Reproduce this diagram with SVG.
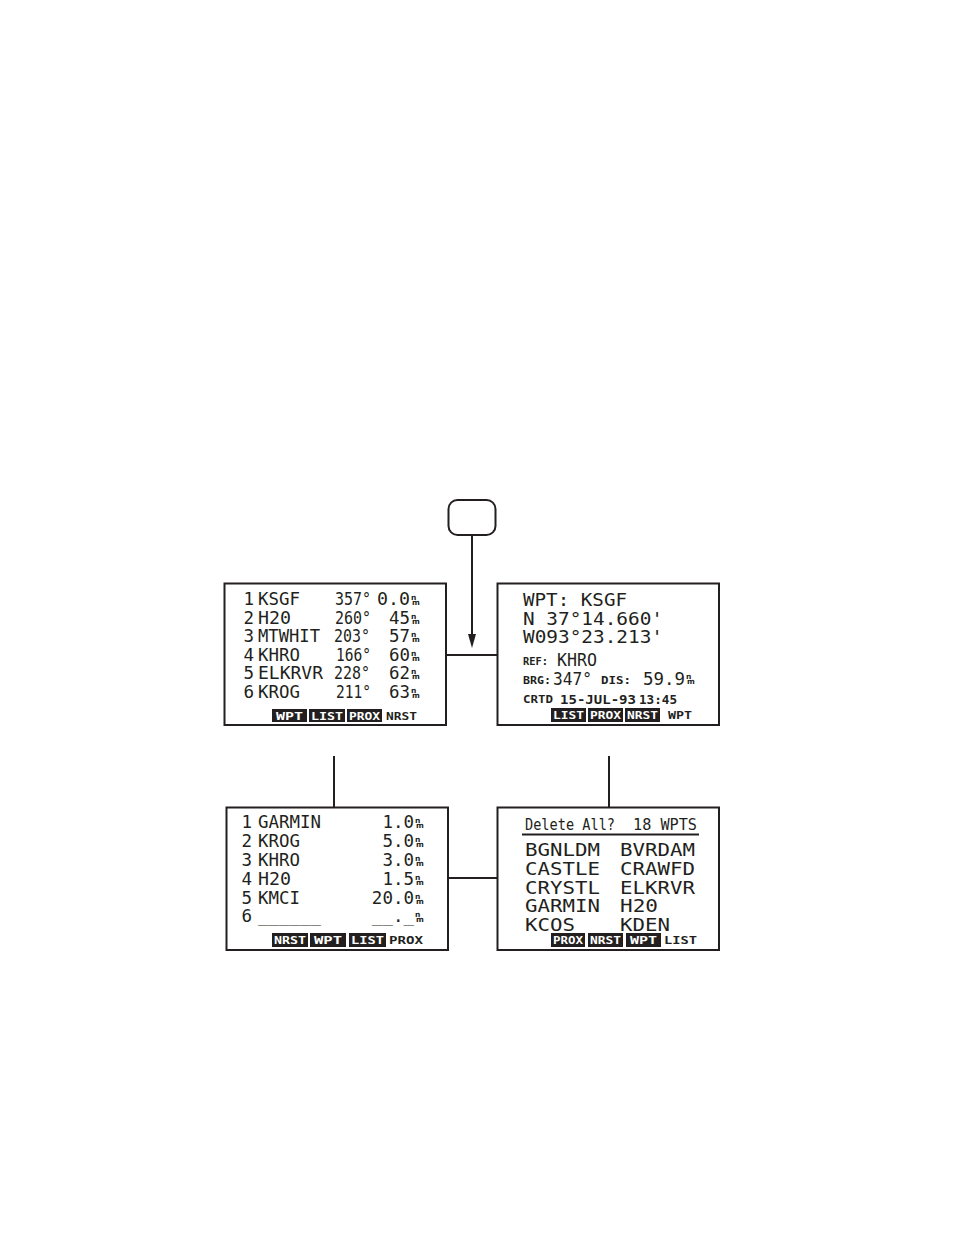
<svg xmlns="http://www.w3.org/2000/svg" width="954" height="1235" viewBox="0 0 954 1235">
<style>
.box{fill:#fff;stroke:#231f20;stroke-width:2}
.ln{stroke:#231f20;stroke-width:2;fill:none}
.t{font-family:"DejaVu Sans Mono","Liberation Mono",monospace;font-size:17.5px;fill:#231f20}
.s{font-family:"DejaVu Sans Mono","Liberation Mono",monospace;font-size:10px;font-weight:bold;fill:#231f20}
.nm{font-family:"DejaVu Sans","Liberation Sans",sans-serif;font-size:7.5px;font-weight:bold;fill:#231f20}
.k{fill:#231f20}
.kw{font-family:"DejaVu Sans Mono","Liberation Mono",monospace;font-size:11px;font-weight:bold;fill:#fff}
.kb{font-family:"DejaVu Sans Mono","Liberation Mono",monospace;font-size:11px;font-weight:bold;fill:#231f20}
.e{text-anchor:end}
</style>
<defs>
<g id="nmu"><text class="nm" x="0" y="-5">n</text><text class="nm" x="1" y="0">m</text></g>
</defs>
<rect width="954" height="1235" fill="#fff"/>
<g id="connectors">
<line class="ln" x1="472" y1="535" x2="472" y2="634"/>
<path d="M468,634 L476,634 L472,648 Z" fill="#231f20"/>
<line class="ln" x1="446" y1="655" x2="497" y2="655"/>
<line class="ln" x1="334" y1="756" x2="334" y2="807"/>
<line class="ln" x1="609" y1="756" x2="609" y2="807"/>
<line class="ln" x1="448" y1="878" x2="498" y2="878"/>
</g>
<g id="key">
<rect class="box" x="448.5" y="500" width="47" height="35" rx="9"/>
</g>
<g id="screen-nearest">
<rect class="box" x="224.5" y="583.5" width="221.5" height="141.5"/>
<g class="t">
<text class="e" x="254" y="605">1</text><text x="258" y="605" textLength="42" lengthAdjust="spacingAndGlyphs">KSGF</text><text x="335" y="605" textLength="36" lengthAdjust="spacingAndGlyphs">357°</text><text x="377" y="605" textLength="33" lengthAdjust="spacingAndGlyphs">0.0</text>
<text class="e" x="254" y="623.5">2</text><text x="258" y="623.5" textLength="33" lengthAdjust="spacingAndGlyphs">H20</text><text x="335" y="623.5" textLength="36" lengthAdjust="spacingAndGlyphs">260°</text><text x="389" y="623.5" textLength="21" lengthAdjust="spacingAndGlyphs">45</text>
<text class="e" x="254" y="642">3</text><text x="258" y="642" textLength="62" lengthAdjust="spacingAndGlyphs">MTWHIT</text><text x="334" y="642" textLength="36" lengthAdjust="spacingAndGlyphs">203°</text><text x="389" y="642" textLength="21" lengthAdjust="spacingAndGlyphs">57</text>
<text class="e" x="254" y="660.5">4</text><text x="258" y="660.5" textLength="42" lengthAdjust="spacingAndGlyphs">KHRO</text><text x="336" y="660.5" textLength="35" lengthAdjust="spacingAndGlyphs">166°</text><text x="389" y="660.5" textLength="21" lengthAdjust="spacingAndGlyphs">60</text>
<text class="e" x="254" y="679">5</text><text x="258" y="679" textLength="65" lengthAdjust="spacingAndGlyphs">ELKRVR</text><text x="334" y="679" textLength="36" lengthAdjust="spacingAndGlyphs">228°</text><text x="389" y="679" textLength="21" lengthAdjust="spacingAndGlyphs">62</text>
<text class="e" x="254" y="697.5">6</text><text x="258" y="697.5" textLength="42" lengthAdjust="spacingAndGlyphs">KROG</text><text x="336" y="697.5" textLength="35" lengthAdjust="spacingAndGlyphs">211°</text><text x="389" y="697.5" textLength="21" lengthAdjust="spacingAndGlyphs">63</text>
</g>
<use href="#nmu" x="411" y="605"/><use href="#nmu" x="411" y="623.5"/><use href="#nmu" x="411" y="642"/><use href="#nmu" x="411" y="660.5"/><use href="#nmu" x="411" y="679"/><use href="#nmu" x="411" y="697.5"/>
<rect class="k" x="272" y="709" width="35" height="13"/><rect class="k" x="309" y="709" width="36" height="13"/><rect class="k" x="347" y="709" width="35" height="13"/>
<text class="kw" x="276" y="719.5" textLength="27" lengthAdjust="spacingAndGlyphs">WPT</text><text class="kw" x="311" y="719.5" textLength="32" lengthAdjust="spacingAndGlyphs">LIST</text><text class="kw" x="349" y="719.5" textLength="31" lengthAdjust="spacingAndGlyphs">PROX</text><text class="kb" x="386" y="719.5" textLength="31" lengthAdjust="spacingAndGlyphs">NRST</text>
</g>
<g id="screen-waypoint">
<rect class="box" x="497.5" y="583.5" width="221.5" height="141.5"/>
<text class="t" x="523" y="606" textLength="104" lengthAdjust="spacingAndGlyphs">WPT: KSGF</text>
<text class="t" x="523" y="624.5" textLength="140" lengthAdjust="spacingAndGlyphs">N 37°14.660'</text>
<text class="t" x="523" y="643" textLength="140" lengthAdjust="spacingAndGlyphs">W093°23.213'</text>
<text class="s" x="523" y="665" textLength="25" lengthAdjust="spacingAndGlyphs">REF:</text>
<text class="t" x="557" y="666" textLength="40" lengthAdjust="spacingAndGlyphs">KHRO</text>
<text class="s" x="523" y="684" textLength="28" lengthAdjust="spacingAndGlyphs">BRG:</text>
<text class="t" x="553" y="685" textLength="39" lengthAdjust="spacingAndGlyphs">347°</text>
<text class="s" x="601" y="684" textLength="30" lengthAdjust="spacingAndGlyphs">DIS:</text>
<text class="t" x="643" y="685" textLength="42" lengthAdjust="spacingAndGlyphs">59.9</text>
<use href="#nmu" x="686" y="684"/>
<text class="s" x="523" y="703" textLength="30" lengthAdjust="spacingAndGlyphs">CRTD</text>
<text class="s" style="font-size:13px" x="560" y="703.5" textLength="76" lengthAdjust="spacingAndGlyphs">15-JUL-93</text>
<text class="s" style="font-size:13px" x="639" y="703.5" textLength="38" lengthAdjust="spacingAndGlyphs">13:45</text>
<rect class="k" x="551" y="708" width="35" height="14"/><rect class="k" x="588" y="708" width="35" height="14"/><rect class="k" x="625" y="708" width="35" height="14"/>
<text class="kw" x="553" y="719" textLength="31" lengthAdjust="spacingAndGlyphs">LIST</text><text class="kw" x="590" y="719" textLength="31" lengthAdjust="spacingAndGlyphs">PROX</text><text class="kw" x="627" y="719" textLength="31" lengthAdjust="spacingAndGlyphs">NRST</text><text class="kb" x="668" y="719" textLength="24" lengthAdjust="spacingAndGlyphs">WPT</text>
</g>
<g id="screen-proximity">
<rect class="box" x="226.5" y="807.5" width="221.5" height="142.5"/>
<g class="t">
<text class="e" x="252" y="828">1</text><text x="258" y="828" textLength="63" lengthAdjust="spacingAndGlyphs">GARMIN</text><text class="e" x="414" y="828">1.0</text>
<text class="e" x="252" y="847">2</text><text x="258" y="847" textLength="42" lengthAdjust="spacingAndGlyphs">KROG</text><text class="e" x="414" y="847">5.0</text>
<text class="e" x="252" y="866">3</text><text x="258" y="866" textLength="42" lengthAdjust="spacingAndGlyphs">KHRO</text><text class="e" x="414" y="866">3.0</text>
<text class="e" x="252" y="884.5">4</text><text x="258" y="884.5" textLength="33" lengthAdjust="spacingAndGlyphs">H20</text><text class="e" x="414" y="884.5">1.5</text>
<text class="e" x="252" y="903.5">5</text><text x="258" y="903.5" textLength="42" lengthAdjust="spacingAndGlyphs">KMCI</text><text class="e" x="414" y="903.5">20.0</text>
<text class="e" x="252" y="922">6</text><text x="258" y="922" textLength="63" lengthAdjust="spacingAndGlyphs">______</text><text class="e" x="414" y="922">__._</text>
</g>
<use href="#nmu" x="415" y="828"/><use href="#nmu" x="415" y="847"/><use href="#nmu" x="415" y="866"/><use href="#nmu" x="415" y="884.5"/><use href="#nmu" x="415" y="903.5"/><use href="#nmu" x="415" y="922"/>
<rect class="k" x="272" y="933" width="36" height="14"/><rect class="k" x="310" y="933" width="36" height="14"/><rect class="k" x="349" y="933" width="37" height="14"/>
<text class="kw" x="274" y="944" textLength="32" lengthAdjust="spacingAndGlyphs">NRST</text><text class="kw" x="314" y="944" textLength="28" lengthAdjust="spacingAndGlyphs">WPT</text><text class="kw" x="351" y="944" textLength="33" lengthAdjust="spacingAndGlyphs">LIST</text><text class="kb" x="389" y="944" textLength="34" lengthAdjust="spacingAndGlyphs">PROX</text>
</g>
<g id="screen-list">
<rect class="box" x="497.5" y="807.5" width="221.5" height="142.5"/>
<text class="t" style="font-size:16px" x="525" y="830" textLength="90" lengthAdjust="spacingAndGlyphs">Delete All?</text>
<text class="t" style="font-size:16px" x="633" y="830" textLength="64" lengthAdjust="spacingAndGlyphs">18 WPTS</text>
<line class="ln" x1="522" y1="834.5" x2="699" y2="834.5"/>
<g class="t" style="font-size:17px">
<text x="525" y="856" textLength="75" lengthAdjust="spacingAndGlyphs">BGNLDM</text><text x="620" y="856" textLength="75" lengthAdjust="spacingAndGlyphs">BVRDAM</text>
<text x="525" y="875" textLength="75" lengthAdjust="spacingAndGlyphs">CASTLE</text><text x="620" y="875" textLength="75" lengthAdjust="spacingAndGlyphs">CRAWFD</text>
<text x="525" y="893.5" textLength="75" lengthAdjust="spacingAndGlyphs">CRYSTL</text><text x="620" y="893.5" textLength="75" lengthAdjust="spacingAndGlyphs">ELKRVR</text>
<text x="525" y="912" textLength="75" lengthAdjust="spacingAndGlyphs">GARMIN</text><text x="620" y="912" textLength="38" lengthAdjust="spacingAndGlyphs">H20</text>
<text x="525" y="930.5" textLength="50" lengthAdjust="spacingAndGlyphs">KCOS</text><text x="620" y="930.5" textLength="50" lengthAdjust="spacingAndGlyphs">KDEN</text>
</g>
<rect class="k" x="551" y="933" width="34" height="14"/><rect class="k" x="588" y="933" width="35" height="14"/><rect class="k" x="626" y="933" width="35" height="14"/>
<text class="kw" x="553" y="944" textLength="30" lengthAdjust="spacingAndGlyphs">PROX</text><text class="kw" x="590" y="944" textLength="31" lengthAdjust="spacingAndGlyphs">NRST</text><text class="kw" x="630" y="944" textLength="27" lengthAdjust="spacingAndGlyphs">WPT</text><text class="kb" x="664" y="944" textLength="33" lengthAdjust="spacingAndGlyphs">LIST</text>
</g>
</svg>
